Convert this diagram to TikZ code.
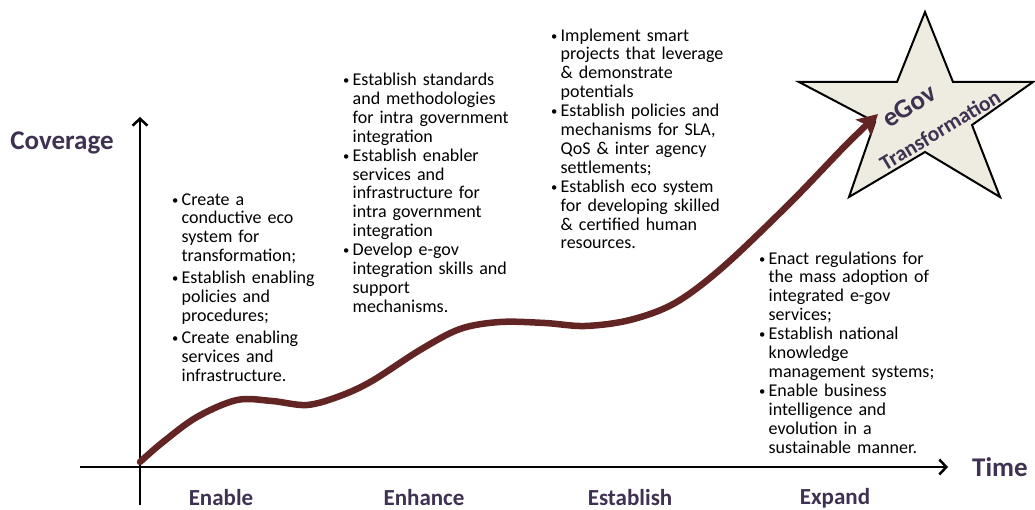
\documentclass[tikz,border=0pt]{standalone}
\usepackage{fontspec}
\setmainfont{Carlito}
\usetikzlibrary{arrows.meta}
\definecolor{lab}{HTML}{3F3151}
\definecolor{curvecol}{HTML}{632523}
\definecolor{starfill}{HTML}{EEECE1}
\newcommand\bul[1]{\par\noindent\hangindent=9.5pt\hangafter=1\makebox[9.5pt][l]{\raisebox{1pt}{\scalebox{0.7}{\textbullet}}}#1\par}
\tikzset{
  blk/.style={anchor=north west, inner sep=0pt, text width=230pt,
    font=\fontsize{18}{18.9}\selectfont\raggedright},
  stage/.style={text=lab, font=\fontsize{23}{25}\selectfont\bfseries},
  axislab/.style={text=lab, font=\fontsize{27}{29}\selectfont\bfseries},
  axisline/.style={line width=2.5pt, -{Straight Barb[length=7pt,width=15pt,line width=2.5pt]}},
}
\begin{document}
\begin{tikzpicture}[x=1pt,y=-1pt]
\useasboundingbox (0,0) rectangle (1035,510);
% star
\draw[fill=starfill, line width=2pt, line join=miter]
  (925,12) -- (953,82) -- (1033,82) -- (972,125) -- (1000,197) -- (925,152)
  -- (849,197) -- (875,122) -- (799,82) -- (897,82) -- cycle;
% axes
\coordinate (yb) at (140,505);
\coordinate (yt) at (140,117);
\coordinate (xl) at (80,467);
\coordinate (xr) at (948,467);
\draw[axisline] (yb) -- (yt);
\draw[axisline] (xl) -- (xr);
% curve
\draw[curvecol, line width=6.5pt, line cap=round,
  -{Stealth[length=20pt,width=22pt,inset=4pt]}]
  plot[smooth, tension=0.55] coordinates {(140,462) (163,442) (197,417) (237,400) (272,401) (307,405) (340,396) (372,381) (420,350) (460,329) (500,322) (545,323) (585,326) (630,320) (675,303) (723,267) (790,203) (845,146) (878,114)};
% star text
\node[text=lab, rotate=32, font=\fontsize{27}{29}\selectfont\bfseries] (egov) at (909,106) {eGov};
\node[text=lab, rotate=31, font=\fontsize{21.5}{23}\selectfont\bfseries] (transf) at (940,130) {Transformation};
% labels
\node[axislab] (cov) at (62,143) {Coverage};
\node[axislab] (time) at (1000,467) {Time};
\node[stage] (s1) at (221,498) {Enable};
\node[stage] (s2) at (424,498) {Enhance};
\node[stage] (s3) at (630,498) {Establish};
\node[stage] (s4) at (835,498) {Expand};
% text blocks
\node[blk] (b1) at (172,183) {\parskip=3pt
  \bul{Create a\newline conductive eco\newline system for\newline transformation;}
  \bul{Establish enabling\newline policies and\newline procedures;}
  \bul{Create enabling\newline services and\newline infrastructure.}};
\node[blk] (b2) at (343,66.5) {\parskip=0pt
  \bul{Establish standards\newline and methodologies\newline for intra government\newline integration}
  \bul{Establish enabler\newline services and\newline infrastructure for\newline intra government\newline integration}
  \bul{Develop e-gov\newline integration skills and\newline support\newline mechanisms.}};
\node[blk] (b3) at (551,22) {\parskip=0pt
  \bul{Implement smart\newline projects that leverage\newline \& demonstrate\newline potentials}
  \bul{Establish policies and\newline mechanisms for SLA,\newline QoS \& inter agency\newline settlements;}
  \bul{Establish eco system\newline for developing skilled\newline \& certified human\newline resources.}};
\node[blk] (b4) at (759,245) {\parskip=0pt
  \bul{Enact regulations for\newline the mass adoption of\newline integrated e-gov\newline services;}
  \bul{Establish national\newline knowledge\newline management systems;}
  \bul{Enable business\newline intelligence and\newline evolution in a\newline sustainable manner.}};
\end{tikzpicture}
\end{document}
